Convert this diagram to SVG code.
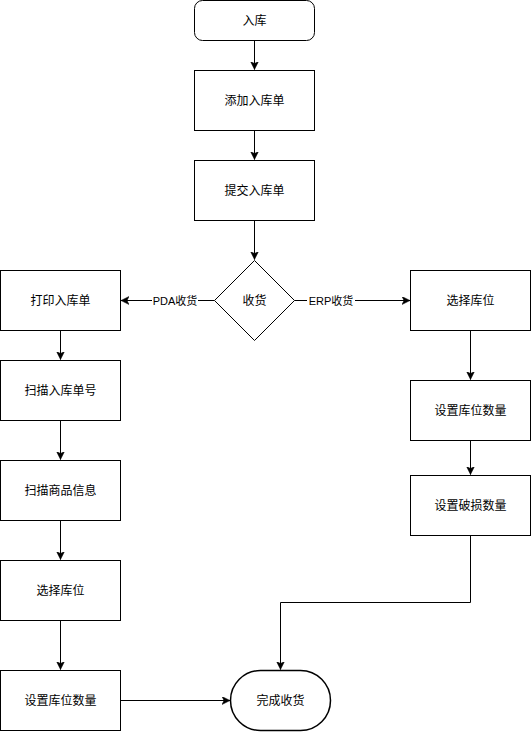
<svg xmlns="http://www.w3.org/2000/svg" width="531" height="732" viewBox="0 0 531 732">
<defs>
<marker id="arr" markerWidth="10" markerHeight="10" refX="8" refY="4" orient="auto" markerUnits="userSpaceOnUse">
<path d="M0,0 L8,4 L0,8 L2,4 z" fill="#000" stroke="#000" stroke-width="0.5"/>
</marker>
<style>
.n{fill:#fff;stroke:#000;stroke-width:1}
.t{font-family:"Liberation Sans","Noto Sans CJK SC",sans-serif;font-size:12px;fill:#000;text-anchor:middle;dominant-baseline:central}
.l{font-family:"Liberation Sans","Noto Sans CJK SC",sans-serif;font-size:11px;fill:#000;text-anchor:middle;dominant-baseline:central}
.c{fill:none;stroke:#000;stroke-width:1;marker-end:url(#arr)}
</style>
</defs>
<rect width="531" height="732" fill="#fff"/>
<g id="connectors">
<path class="c" d="M254.5,40.5 V69.5"/>
<path class="c" d="M254.5,130.5 V159.5"/>
<path class="c" d="M254.5,220.5 V259.5"/>
<path class="c" d="M214.5,300.5 H121"/>
<path class="c" d="M294.5,300.5 H410"/>
<path class="c" d="M60.5,330.5 V359.5"/>
<path class="c" d="M60.5,420.5 V459.5"/>
<path class="c" d="M60.5,520.5 V559.5"/>
<path class="c" d="M60.5,620.5 V669.5"/>
<path class="c" d="M470.5,330.5 V379.5"/>
<path class="c" d="M470.5,440.5 V474.5"/>
<path class="c" d="M470.5,535.5 V602.5 H280.5 V669.5"/>
<path class="c" d="M120.5,700.5 H230"/>
<rect x="152" y="293" width="46" height="15" fill="#fff"/>
<text class="l" x="175" y="300.5">PDA收货</text>
<rect x="307" y="293" width="48" height="15" fill="#fff"/>
<text class="l" x="331" y="300.5">ERP收货</text>
</g>
<g id="n-start"><rect class="n" x="194.5" y="0.5" width="120" height="40" rx="8"/><text class="t" x="254.5" y="20.5">入库</text></g>
<g id="n-add"><rect class="n" x="194.5" y="70.5" width="120" height="60"/><text class="t" x="254.5" y="100.5">添加入库单</text></g>
<g id="n-submit"><rect class="n" x="194.5" y="160.5" width="120" height="60"/><text class="t" x="254.5" y="190.5">提交入库单</text></g>
<g id="n-receive"><polygon class="n" points="254.5,260.5 294.5,300.5 254.5,340.5 214.5,300.5"/><text class="t" x="254.5" y="300.5">收货</text></g>
<g id="n-print"><rect class="n" x="0.5" y="270.5" width="120" height="60"/><text class="t" x="60.5" y="300.5">打印入库单</text></g>
<g id="n-scan-no"><rect class="n" x="0.5" y="360.5" width="120" height="60"/><text class="t" x="60.5" y="390.5">扫描入库单号</text></g>
<g id="n-scan-goods"><rect class="n" x="0.5" y="460.5" width="120" height="60"/><text class="t" x="60.5" y="490.5">扫描商品信息</text></g>
<g id="n-loc-l"><rect class="n" x="0.5" y="560.5" width="120" height="60"/><text class="t" x="60.5" y="590.5">选择库位</text></g>
<g id="n-qty-l"><rect class="n" x="0.5" y="670.5" width="120" height="60"/><text class="t" x="60.5" y="700.5">设置库位数量</text></g>
<g id="n-loc-r"><rect class="n" x="410.5" y="270.5" width="120" height="60"/><text class="t" x="470.5" y="300.5">选择库位</text></g>
<g id="n-qty-r"><rect class="n" x="410.5" y="380.5" width="120" height="60"/><text class="t" x="470.5" y="410.5">设置库位数量</text></g>
<g id="n-damage"><rect class="n" x="410.5" y="475.5" width="120" height="60"/><text class="t" x="470.5" y="505.5">设置破损数量</text></g>
<g id="n-done"><rect class="n" x="230.5" y="670.5" width="100" height="60" rx="30" ry="30" style="stroke-width:1.5"/><text class="t" x="280.5" y="700.5">完成收货</text></g>
</svg>
